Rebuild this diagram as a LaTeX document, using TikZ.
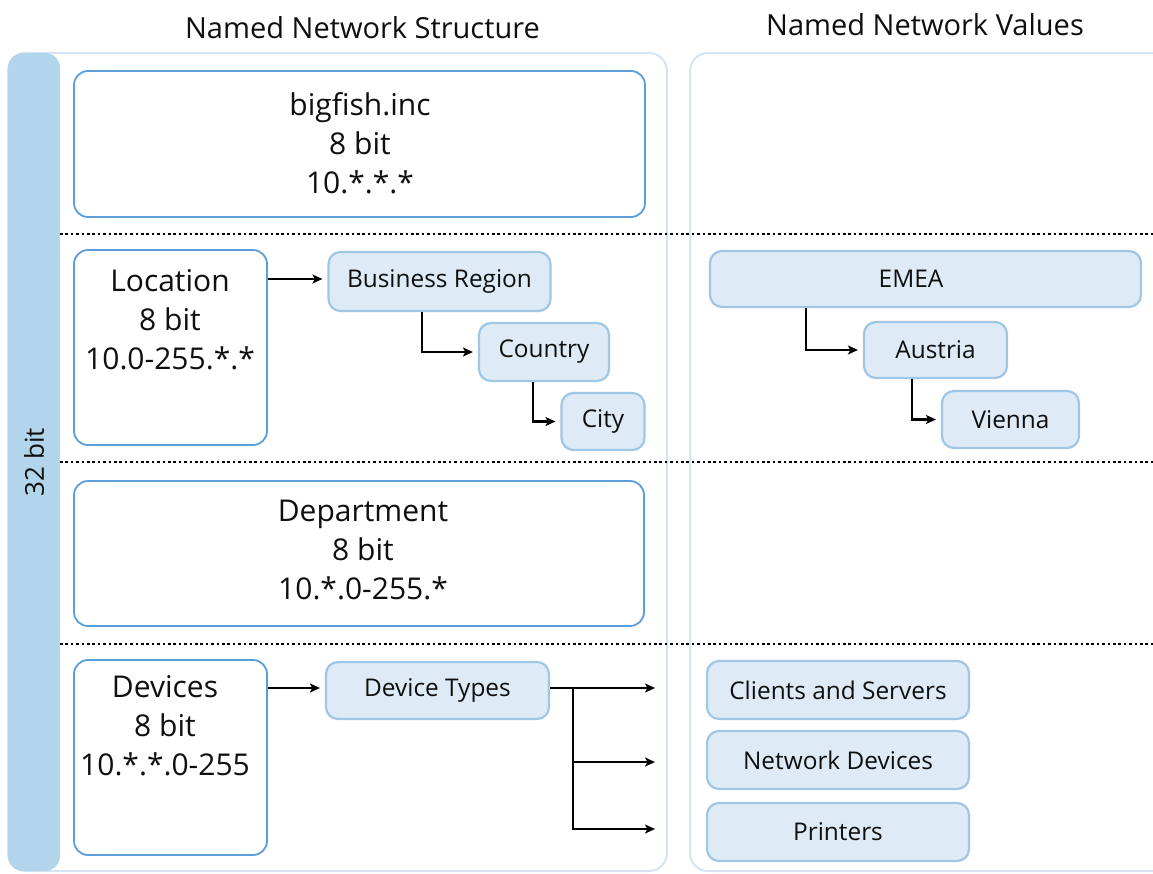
\documentclass[tikz,border=0pt]{standalone}
\usepackage{fontspec}
\setmainfont{Open Sans}
\usetikzlibrary{arrows.meta}
\definecolor{barblue}{RGB}{178,213,236}
\definecolor{panelblue}{RGB}{212,228,243}
\definecolor{boxblue}{RGB}{92,159,216}
\definecolor{smfill}{RGB}{222,235,247}
\definecolor{smborder}{RGB}{160,198,230}
\definecolor{txt}{RGB}{15,15,15}
\begin{document}
\begin{tikzpicture}[x=1pt,y=-1pt,
  panel/.style={draw=panelblue, line width=2pt, rounded corners=18pt},
  bigbox/.style={draw=boxblue, line width=1.8pt, rounded corners=14pt, fill=white, inner sep=0pt},
  smallbox/.style={draw=smborder, fill=smfill, line width=2.2pt, rounded corners=12pt, inner sep=0pt,
    font=\fontsize{24.4}{28}\selectfont, text=txt},
  bigtext/.style={font=\fontsize{30}{39}\selectfont, align=center, text=txt, inner sep=0pt},
  titletext/.style={font=\fontsize{29}{34}\selectfont, text=txt, inner sep=0pt, anchor=base},
  arr/.style={-{Stealth[length=10pt,width=9pt,inset=2.5pt]}, line width=2.6pt, shorten >=5pt},
  sep/.style={line width=2.6pt, dash pattern=on 2.6pt off 2.8pt}
]
\useasboundingbox (0,0) rectangle (1153,873);
\clip (0,0) rectangle (1153,873);
\fill[white] (0,0) rectangle (1153,873);

% panels
\draw[panel] (8,53) rectangle (667,871);
\draw[panel] (690,53) rectangle (1200,871);
\fill[barblue, rounded corners=15pt] (8,53) rectangle (60,871);
\node[rotate=90, font=\fontsize{26}{30}\selectfont, text=txt] (bits) at (34,462) {32 bit};

% titles
\node[titletext] (t1) at (362.5,38) {Named Network Structure};
\node[titletext] (t2) at (925,35) {Named Network Values};

% separators
\draw[sep] (60,234) -- (1153,234);
\draw[sep] (60,462) -- (1153,462);
\draw[sep] (60,644) -- (1153,644);

% big boxes
\node[bigbox, minimum width=571pt, minimum height=146pt] (big) at (359.5,144) {};
\node[bigtext] (bigt) at (360,143) {bigfish.inc\\8 bit\\10.*.*.*};
\node[bigbox, minimum width=193pt, minimum height=195pt] (loc) at (170.5,347.5) {};
\node[bigtext] (loct) at (170,320) {Location\\8 bit\\10.0-255.*.*};
\node[bigbox, minimum width=570pt, minimum height=145pt] (dep) at (359,553.5) {};
\node[bigtext] (dept) at (363,550) {Department\\8 bit\\10.*.0-255.*};
\node[bigbox, minimum width=193pt, minimum height=195pt] (dev) at (170.5,757.5) {};
\node[bigtext] (devt) at (165,726) {Devices\\8 bit\\10.*.*.0-255};

% small boxes - structure
\node[smallbox, minimum width=222pt, minimum height=59pt] (br) at (439.5,281.5) {Business Region};
\node[smallbox, minimum width=130pt, minimum height=58pt] (country) at (544,352) {Country};
\node[smallbox, minimum width=83pt, minimum height=57pt] (city) at (603,421.5) {City};
\node[smallbox, minimum width=223pt, minimum height=57pt] (dtypes) at (437.5,690.5) {Device Types};

% small boxes - values
\node[smallbox, minimum width=431pt, minimum height=56pt] (emea) at (925.5,279) {};
\node[text=txt, font=\fontsize{24.4}{28}\selectfont, inner sep=0pt] (emeat) at (911,279) {EMEA};
\node[smallbox, minimum width=143pt, minimum height=56pt] (austria) at (935.5,350) {Austria};
\node[smallbox, minimum width=137pt, minimum height=57pt] (vienna) at (1010.5,419.5) {Vienna};
\node[smallbox, minimum width=262pt, minimum height=58pt] (clients) at (838,690) {Clients and Servers};
\node[smallbox, minimum width=262pt, minimum height=58pt] (netdev) at (838,760) {Network Devices};
\node[smallbox, minimum width=262pt, minimum height=58pt] (printers) at (838,832) {Printers};

% connectors
\draw[arr] (loc.east |- 0,279) -- (br.west |- 0,279);
\draw[arr] (br.south -| 422,0) |- (country.west);
\draw[arr] (country.south -| 533,0) |- (city.west);
\draw[arr] (emea.south -| 806,0) |- (austria.west);
\draw[arr] (austria.south -| 912,0) |- (vienna.west);
\draw[arr] (dev.east |- 0,688) -- (dtypes.west |- 0,688);

\coordinate (o1) at (660,688);
\coordinate (o2) at (660,762);
\coordinate (o3) at (660,829);
\coordinate (j1) at (573,688);
\draw[arr] (dtypes.east |- o1) -- (o1);
\draw[arr] (j1) |- (o2);
\draw[arr] (j1) |- (o3);
\end{tikzpicture}
\end{document}
